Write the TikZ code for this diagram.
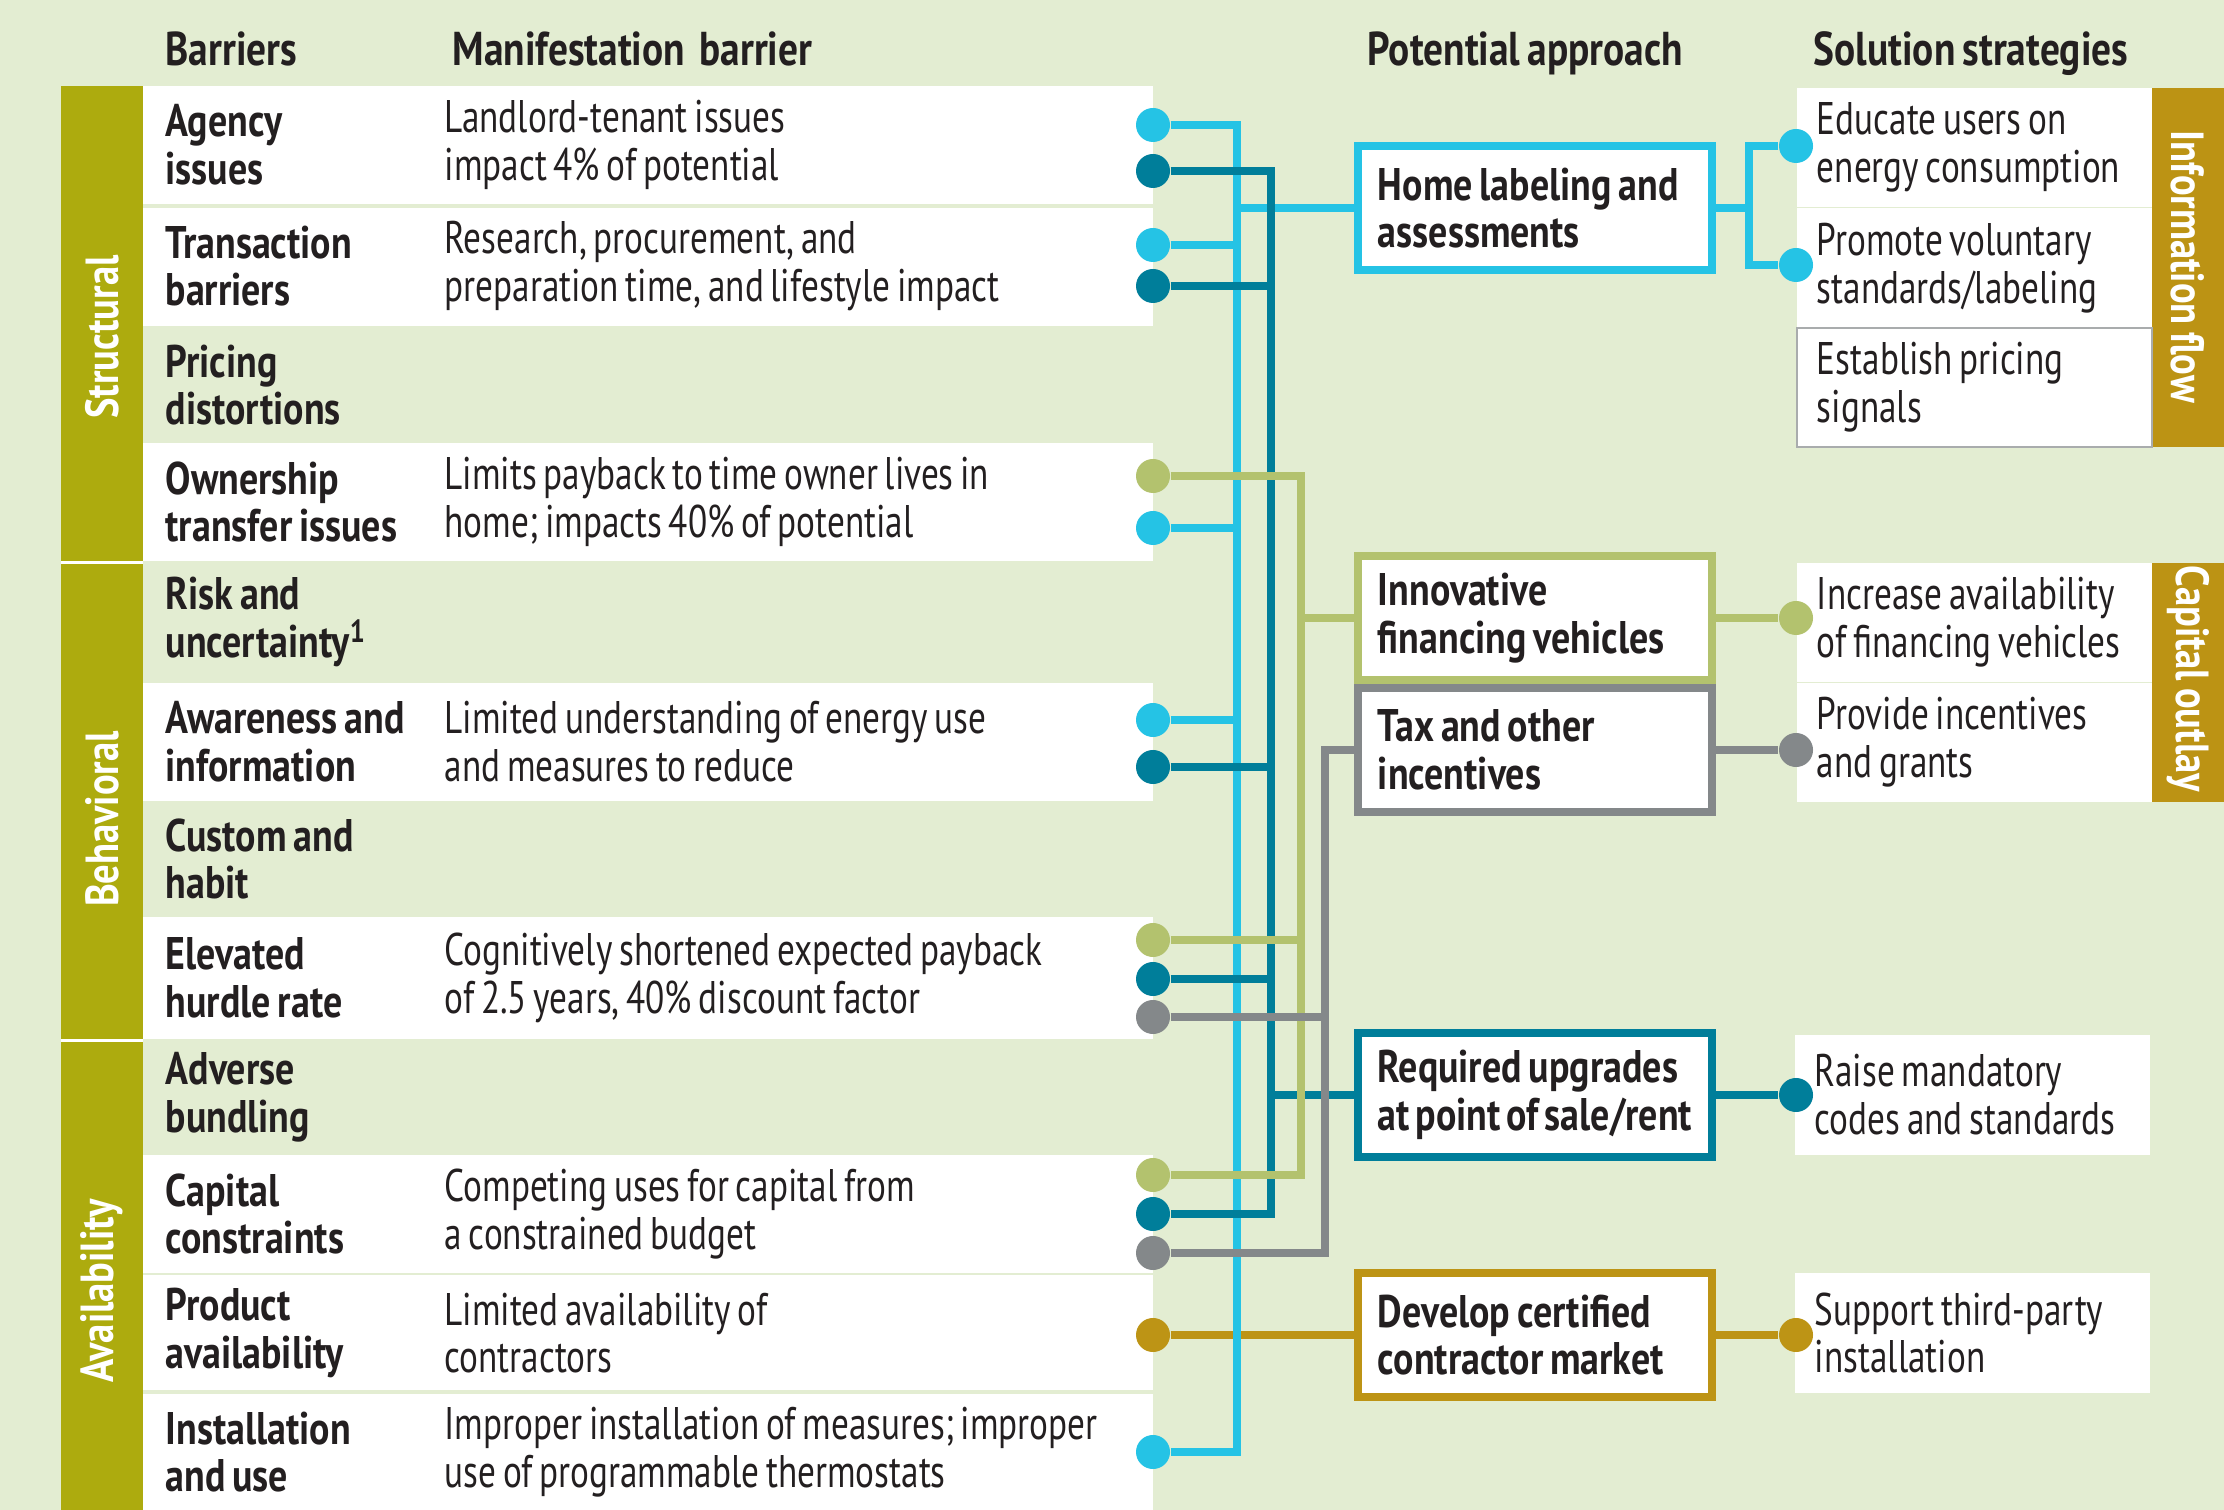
\documentclass[tikz,border=0pt]{standalone}
\usepackage{fontspec}
\setmainfont{PT Sans}[UprightFeatures={FakeStretch=0.77},BoldFeatures={FakeStretch=0.83},WordSpace=0.72]
\usepackage{tikz}
\hyphenpenalty=10000
\exhyphenpenalty=10000

\definecolor{bggreen}{HTML}{E3EDD2}
\definecolor{barolive}{HTML}{ADAB0E}
\definecolor{bargold}{HTML}{BC9314}
\definecolor{lncyan}{HTML}{25C3E5}
\definecolor{lnteal}{HTML}{007E9A}
\definecolor{lngreen}{HTML}{B3C26E}
\definecolor{lngray}{HTML}{84888A}
\definecolor{lngold}{HTML}{BD9415}
\definecolor{txtdark}{HTML}{231F20}

\begin{document}
\begin{tikzpicture}[x=0.01cm,y=-0.01cm,
  head/.style={anchor=base west,inner sep=0pt,text=txtdark,font=\fontsize{13.5}{14}\selectfont\bfseries},
  barrier/.style={anchor=west,inner sep=0pt,align=left,text=txtdark,font=\fontsize{13}{13.6}\selectfont\bfseries},
  manif/.style={anchor=west,inner sep=0pt,align=left,text=txtdark,font=\fontsize{13}{13.6}\selectfont},
  catlabel/.style={text=white,inner sep=0pt,font=\fontsize{13.2}{14}\selectfont\bfseries},
  dot/.style={circle,fill=#1,inner sep=0pt,minimum size=0.34cm},
  wire/.style={draw=#1,line width=0.08cm},
  approach/.style={draw=#1,line width=0.08cm,fill=white,minimum width=3.54cm,minimum height=1.24cm,inner xsep=0.2cm,text width=3.14cm,align=left,text=txtdark,font=\fontsize{13}{13.6}\selectfont\bfseries,execute at begin node={\spaceskip=0pt\xspaceskip=0pt\relax}},
  strategy/.style={fill=white,minimum width=3.55cm,minimum height=1.19cm,inner xsep=0.2cm,text width=3.15cm,align=left,text=txtdark,font=\fontsize{13}{13.6}\selectfont,execute at begin node={\spaceskip=0pt\xspaceskip=0pt\relax}}
]
\fill[bggreen] (0,0) rectangle (2224,1510);
\useasboundingbox (0,0) rectangle (2224,1510);

\fill[white] (143,86) rectangle (1153,204);
\fill[white] (143,208) rectangle (1153,326);
\fill[white] (143,443) rectangle (1153,561);
\fill[white] (143,683) rectangle (1153,801);
\fill[white] (143,917) rectangle (1153,1039);
\fill[white] (143,1155) rectangle (1153,1273);
\fill[white] (143,1275) rectangle (1153,1390);
\fill[white] (143,1394) rectangle (1153,1510);

\fill[barolive] (61,86) rectangle (143,561);
\fill[barolive] (61,564) rectangle (143,1039);
\fill[barolive] (61,1042) rectangle (143,1510);
\fill[white] (61,561) rectangle (143,564);
\fill[white] (61,1039) rectangle (143,1042);

\fill[bargold] (2152,88) rectangle (2224,447);
\fill[bargold] (2152,563) rectangle (2224,802);

\node[catlabel,rotate=90] (structural) at (102,337) {Structural};
\node[catlabel,rotate=90] (behavioral) at (102,819) {Behavioral};
\node[catlabel,rotate=90] (availability) at (102,1291) {Availability};
\node[catlabel,rotate=-90] (infoflow) at (2188,267) {Information flow};
\node[catlabel,rotate=-90] (outlay) at (2188,679) {Capital outlay};

\node[head] (hBarriers) at (165,66) {Barriers};
\node[head] (hManif) at (452,66) {Manifestation\ \ barrier};
\node[head] (hApproach) at (1367,66) {Potential approach};
\node[head] (hStrategy) at (1813,66) {Solution strategies};

\node[barrier] (bAgency) at (165,145) {Agency\\issues};
\node[barrier] (bTransaction) at (165,266) {Transaction\\barriers};
\node[barrier] (bPricing) at (165,385) {Pricing\\distortions};
\node[barrier] (bOwnership) at (165,502) {Ownership\\transfer issues};
\node[barrier] (bRisk) at (165,622) {Risk and\\uncertainty\textsuperscript{1}};
\node[barrier] (bAwareness) at (165,742) {Awareness and\\information};
\node[barrier] (bCustom) at (165,859) {Custom and\\habit};
\node[barrier] (bHurdle) at (165,978) {Elevated\\hurdle rate};
\node[barrier] (bAdverse) at (165,1097) {Adverse\\bundling};
\node[barrier] (bCapital) at (165,1214) {Capital\\constraints};
\node[barrier] (bProduct) at (165,1333) {Product\\availability};
\node[barrier] (bInstall) at (165,1452) {Installation\\and use};

\node[manif] (mAgency) at (444,145) {Landlord-tenant issues\\impact 4\% of potential};
\node[manif] (mTransaction) at (444,266) {Research, procurement, and\\preparation time, and lifestyle impact};
\node[manif] (mOwnership) at (444,502) {Limits payback to time owner lives in\\home; impacts 40\% of potential};
\node[manif] (mAwareness) at (444,742) {Limited understanding of energy use\\and measures to reduce};
\node[manif] (mHurdle) at (444,978) {Cognitively shortened expected payback\\of 2.5 years, 40\% discount factor};
\node[manif] (mCapital) at (444,1214) {Competing uses for capital from\\a constrained budget};
\node[manif] (mProduct) at (444,1333) {Limited availability of\\contractors};
\node[manif] (mInstall) at (444,1452) {Improper installation of measures; improper\\use of programmable thermostats};

\node[strategy] (educate) at (1974.5,147.5) {Educate users on\\energy consumption};
\node[strategy] (promote) at (1974.5,268) {Promote voluntary\\standards/labeling};
\node[strategy,draw=lngray!70,line width=0.02cm] (pricing) at (1974.5,387.5) {Establish pricing\\signals};
\node[strategy] (increase) at (1974.5,622.5) {Increase availability\\of financing vehicles};
\node[strategy] (provide) at (1974.5,742.5) {Provide incentives\\and grants};
\node[strategy] (raise) at (1972.5,1095) {Raise mandatory\\codes and standards};
\node[strategy] (support) at (1972.5,1333) {Support third-party\\installation};

\node[approach=lncyan] (home) at (1535,208) {Home labeling and\\assessments};
\node[approach=lngreen] (finance) at (1535,618) {Innovative\\financing vehicles};
\node[approach=lngray] (tax) at (1535,750) {Tax and other\\incentives};
\node[approach=lnteal] (upgrade) at (1535,1095) {Required upgrades\\at point of sale/rent};
\node[approach=lngold] (market) at (1535,1335) {Develop certified\\contractor market};

\node[dot=lncyan] (agencyC) at (1153,125) {};
\node[dot=lnteal] (agencyT) at (1153,171) {};
\node[dot=lncyan] (transC) at (1153,245) {};
\node[dot=lnteal] (transT) at (1153,286) {};
\node[dot=lngreen] (ownG) at (1153,476) {};
\node[dot=lncyan] (ownC) at (1153,528) {};
\node[dot=lncyan] (awareC) at (1153,720) {};
\node[dot=lnteal] (awareT) at (1153,767) {};
\node[dot=lngreen] (hurdleG) at (1153,940) {};
\node[dot=lnteal] (hurdleT) at (1153,979) {};
\node[dot=lngray] (hurdleY) at (1153,1017) {};
\node[dot=lngreen] (capG) at (1153,1175) {};
\node[dot=lnteal] (capT) at (1153,1214) {};
\node[dot=lngray] (capY) at (1153,1253) {};
\node[dot=lngold] (prodO) at (1153,1335) {};
\node[dot=lncyan] (instC) at (1153,1452) {};

\node[dot=lncyan] (educateD) at (1796,146) {};
\node[dot=lncyan] (promoteD) at (1796,265) {};
\node[dot=lngreen] (increaseD) at (1796,618) {};
\node[dot=lngray] (provideD) at (1796,750) {};
\node[dot=lnteal] (raiseD) at (1796,1095) {};
\node[dot=lngold] (supportD) at (1796,1335) {};

\coordinate (cyanbus) at (1237,0);
\coordinate (tealbus) at (1271,0);
\coordinate (greenbus) at (1301,0);
\coordinate (graybus) at (1325,0);
\coordinate (homebus) at (1749,0);

\draw[wire=lngold] (prodO) -- (market);
\draw[wire=lngold] (market) -- (supportD);

\draw[wire=lncyan] (agencyC) -| (cyanbus |- instC) -- (instC);
\draw[wire=lncyan] (transC) -- (transC -| cyanbus);
\draw[wire=lncyan] (ownC) -- (ownC -| cyanbus);
\draw[wire=lncyan] (awareC) -- (awareC -| cyanbus);
\draw[wire=lncyan] (cyanbus |- home) -- (home);
\draw[wire=lncyan] (home) -- (home -| homebus);
\draw[wire=lncyan] (educateD) -| (home -| homebus) |- (promoteD);

\draw[wire=lnteal] (agencyT) -| (tealbus |- capT) -- (capT);
\draw[wire=lnteal] (transT) -- (transT -| tealbus);
\draw[wire=lnteal] (awareT) -- (awareT -| tealbus);
\draw[wire=lnteal] (hurdleT) -- (hurdleT -| tealbus);
\draw[wire=lnteal] (tealbus |- upgrade) -- (upgrade);
\draw[wire=lnteal] (upgrade) -- (raiseD);

\draw[wire=lngreen] (ownG) -| (greenbus |- capG) -- (capG);
\draw[wire=lngreen] (hurdleG) -- (hurdleG -| greenbus);
\draw[wire=lngreen] (greenbus |- finance) -- (finance);
\draw[wire=lngreen] (finance) -- (increaseD);

\draw[wire=lngray] (tax) -| (graybus |- capY) -- (capY);
\draw[wire=lngray] (hurdleY) -- (hurdleY -| graybus);
\draw[wire=lngray] (tax) -- (provideD);
\end{tikzpicture}
\end{document}
